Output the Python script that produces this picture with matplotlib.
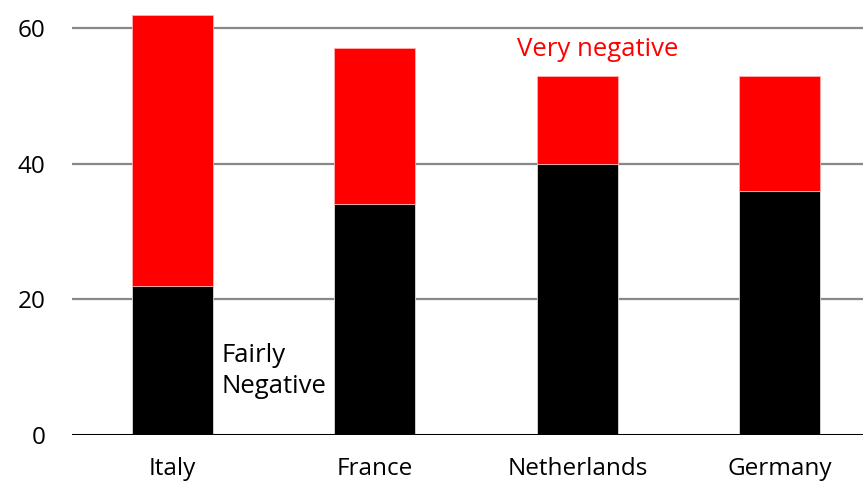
import numpy as np
import matplotlib
matplotlib.use("Agg")
import matplotlib.pyplot as plt

plt.rcParams['font.family'] = ['Open Sans', 'DejaVu Sans']

countries = ["Italy", "France", "Netherlands", "Germany"]
fairly_negative = [22, 34, 40, 36]
very_negative = [40, 23, 13, 17]
yticks = [0, 20, 40, 60]

fig = plt.figure(figsize=(8.63, 4.82), dpi=100)
ax = fig.add_axes([72 / 863, 47 / 482, 791 / 863, 434 / 482])

x = np.arange(len(countries))
ax.bar(x, fairly_negative, width=0.4, color="black", edgecolor="#dddddd", linewidth=0.6, zorder=3)
ax.bar(x, very_negative, width=0.4, bottom=fairly_negative, color="#ff0000",
       edgecolor="#ffb0b0", linewidth=0.6, zorder=3)

ax.set_xlim(-0.495, 3.41)
ax.set_ylim(0, 64)
ax.set_yticks(yticks)
ax.set_yticklabels([str(t) for t in yticks])
ax.set_xticks(x)
ax.set_xticklabels(countries)
ax.tick_params(axis="y", length=0, pad=19, labelsize=17.5)
ax.tick_params(axis="x", length=0, pad=15.5, labelsize=17.5)

for t in yticks[1:]:
    ax.axhline(t, color="#888888", linewidth=1.6, zorder=1)
ax.axhline(0, color="black", linewidth=2.2, zorder=4)

for s in ax.spines.values():
    s.set_visible(False)

ax.text(0.245, 9.4, "Fairly\nNegative", fontsize=18.5, color="black",
        ha="left", va="center", linespacing=1.3)
ax.text(1.7, 56.9, "Very negative", fontsize=18.5, color="#ff0000",
        ha="left", va="center")

fig.savefig("out.png", dpi=100)
